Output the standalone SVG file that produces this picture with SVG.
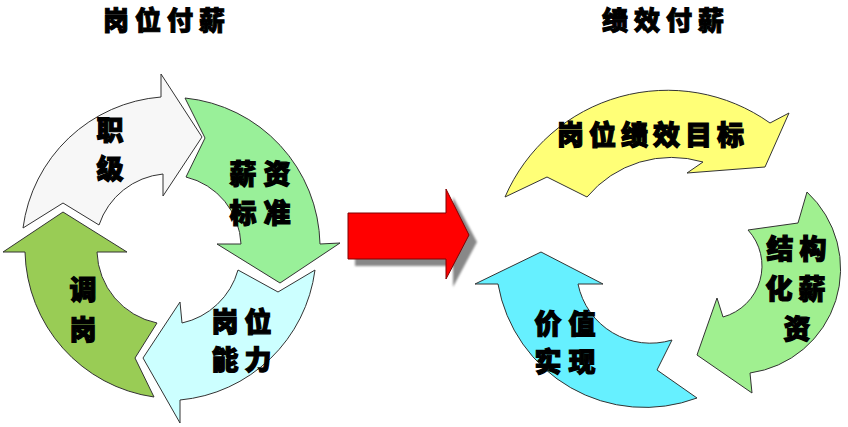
<svg xmlns="http://www.w3.org/2000/svg" width="848" height="427" viewBox="0 0 848 427">
<style>
  .arw { stroke: #333; stroke-width: 1; stroke-linejoin: miter; }
  .lbl { font-family: "Noto Sans CJK SC", "Noto Sans", sans-serif; font-weight: 900; font-size: 27px; fill: #000; stroke: #000; stroke-width: 1.2; text-anchor: middle; dominant-baseline: central; }
  .ttl { font-family: "Noto Sans CJK SC", "Noto Sans", sans-serif; font-weight: 900; font-size: 26px; fill: #000; stroke: #000; stroke-width: 1; letter-spacing: 6px; dominant-baseline: central; }
</style>
<defs>
  <filter id="blur" x="-10%" y="-10%" width="120%" height="120%">
    <feGaussianBlur stdDeviation="1"/>
  </filter>
</defs>
<rect width="848" height="427" fill="#fff"/>

<g id="title-left"><text class="ttl" x="103" y="18">岗位付薪</text></g>
<g id="title-right"><text class="ttl" x="602" y="18">绩效付薪</text></g>

<!-- Left cycle -->
<g id="zhiji">
  <path class="arw" fill="#f7f7f7" d="M23,228 A151,151 0 0 1 161,97 L161,74 L202,137 L163,196 L163,174 A75,75 0 0 0 99,225 L63,203 Z"/>
  <text class="lbl" x="110" y="128">职</text>
  <text class="lbl" x="110" y="167">级</text>
</g>
<g id="xinzi-biaozhun">
  <path class="arw" fill="#99f099" d="M185,98 A150,150 0 0 1 320,244 L340,243 L280,283 L217,244 L241,244 A72,72 0 0 0 186,177 L205,138 Z"/>
  <text class="lbl" x="243" y="172">薪</text>
  <text class="lbl" x="277" y="172">资</text>
  <text class="lbl" x="243" y="211">标</text>
  <text class="lbl" x="277" y="211">准</text>
</g>
<g id="gangwei-nengli">
  <path class="arw" fill="#ccffff" d="M315,270 A150,150 0 0 1 180,400 L180,423 L143,358 L180,302 L182,323 A75,75 0 0 0 238,270 L278,292 Z"/>
  <text class="lbl" x="225" y="320">岗</text>
  <text class="lbl" x="258" y="320">位</text>
  <text class="lbl" x="225" y="358">能</text>
  <text class="lbl" x="258" y="358">力</text>
</g>
<g id="tiaogang">
  <path class="arw" fill="#99cc55" d="M154,397 A150,150 0 0 1 25,252 L3,252 L63,212 L127,252 L97,252 A75,75 0 0 0 157,323 L135,358 Z"/>
  <text class="lbl" x="83" y="288">调</text>
  <text class="lbl" x="83" y="328">岗</text>
</g>

<!-- Right cycle -->
<g id="gangwei-jixiao-mubiao">
  <path class="arw" fill="#ffff77" d="M505,197 A177,177 0 0 1 770,123 L789,113 L765,167 L687,173 L703,162 A110,110 0 0 0 587,197 L547,177 Z"/>
  <text class="lbl" x="653" y="133" style="letter-spacing:5px">岗位绩效目标</text>
</g>
<g id="jiegouhua-xinzi">
  <path class="arw" fill="#a0f090" d="M807,192 A105,105 0 0 1 750,373 L752,393 L697,355 L717,298 L723,317 A53,53 0 0 0 748,230 L798,223 Z"/>
  <text class="lbl" x="780" y="247">结</text>
  <text class="lbl" x="813" y="247">构</text>
  <text class="lbl" x="779" y="287">化</text>
  <text class="lbl" x="812" y="287">薪</text>
  <text class="lbl" x="797" y="327">资</text>
</g>
<g id="jiazhi-shixian">
  <path class="arw" fill="#66f0ff" d="M541,252 L603,284 L578,284 A74,74 0 0 0 672,340 L657,370 L697,398 A149,149 0 0 1 498,284 L475,284 Z"/>
  <text class="lbl" x="548" y="322">价</text>
  <text class="lbl" x="582" y="322">值</text>
  <text class="lbl" x="548" y="360">实</text>
  <text class="lbl" x="582" y="360">现</text>
</g>

<!-- Connector -->
<g id="connectors">
  <path fill="#888" filter="url(#blur)" d="M355,220 L453,220 L453,197 L477,242 L453,287 L453,266 L355,266 Z"/>
  <path fill="#ff0000" stroke="#800000" stroke-width="1" d="M348,213 L446,213 L446,189 L469,235 L446,279 L446,259 L348,259 Z"/>
</g>
</svg>
